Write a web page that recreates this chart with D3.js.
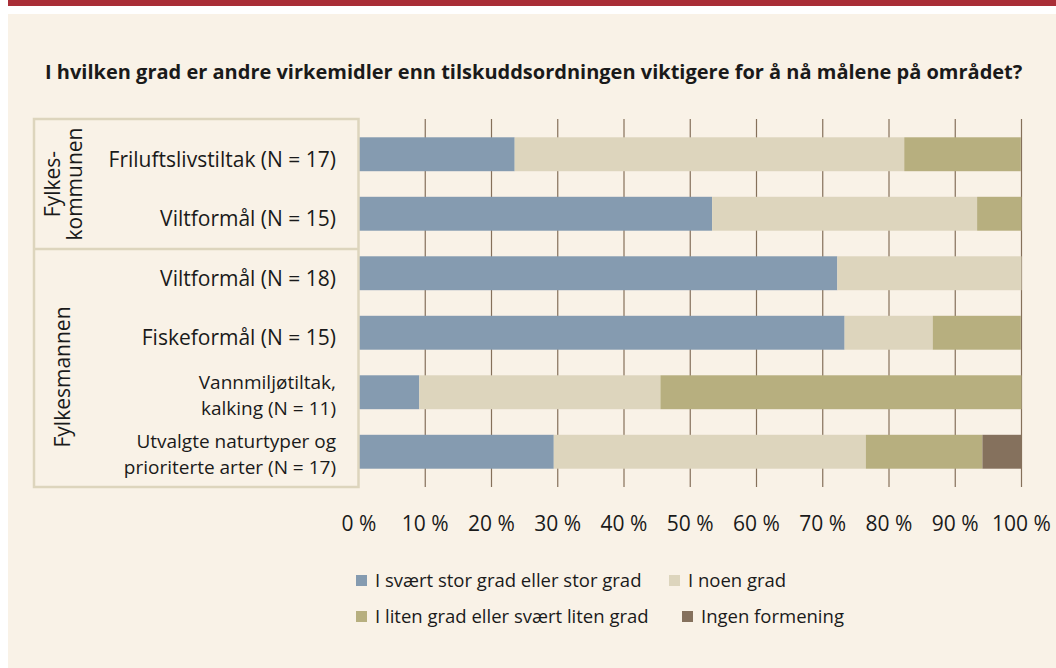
<!DOCTYPE html>
<html>
<head>
<meta charset="utf-8">
<script src="https://cdn.jsdelivr.net/npm/d3@7"></script>
<style>
  body { margin: 0; background: #ffffff; }
  svg text { font-family: "Open Sans", "Noto Sans", sans-serif; fill: #1a1a1a; }
</style>
</head>
<body>
<svg width="1056" height="668"></svg>
<script>
// chart data
var title = "I hvilken grad er andre virkemidler enn tilskuddsordningen viktigere for å nå målene på området?";
var categories = [
    "Friluftslivstiltak (N = 17)",
    "Viltformål (N = 15)",
    "Viltformål (N = 18)",
    "Fiskeformål (N = 15)",
    "Vannmiljøtiltak,|kalking (N = 11)",
    "Utvalgte naturtyper og|prioriterte arter (N = 17)"
];
var groups = [
    { name: "Fylkes-|kommunen", first: 0, last: 1 },
    { name: "Fylkesmannen", first: 2, last: 5 }
];
var seriesNames = ["I svært stor grad eller stor grad", "I noen grad", "I liten grad eller svært liten grad", "Ingen formening"];
var storGrad = [23.5, 53.3, 72.2, 73.3, 9.1, 29.4];
var noenGrad = [58.8, 40.0, 27.8, 13.3, 36.4, 47.1];
var litenGrad = [17.6, 6.7, 0, 13.3, 54.5, 17.6];
var ingenFormening = [0, 0, 0, 0, 0, 5.9];
var xTicks = [0, 10, 20, 30, 40, 50, 60, 70, 80, 90, 100];
var colors = ["#859bb0", "#ddd5bd", "#b7af7f", "#85715d"];

var svg = d3.select("svg");

// page header band + panel
svg.append("rect").attr("x", 8).attr("y", 0).attr("width", 1048).attr("height", 6).attr("fill", "#a92e37");
svg.append("rect").attr("x", 8).attr("y", 14).attr("width", 1048).attr("height", 654).attr("fill", "#f9f2e7");

svg.append("text")
    .attr("x", 45).attr("y", 79)
    .style("font-weight", "bold")
    .style("font-size", "20px")
    .text(title);

var table = categories.map(function (c, i) {
    return { cat: c, s0: storGrad[i], s1: noenGrad[i], s2: litenGrad[i], s3: ingenFormening[i] };
});
var stacked = d3.stack().keys(["s0", "s1", "s2", "s3"])(table);

var x = d3.scaleLinear().domain([0, 100]).range([359, 1021.5]);
var y = d3.scaleBand().domain(categories).range([124.5, 481.5])
    .paddingInner(0.43).paddingOuter(0.215);

var plotTop = 119, plotBottom = 487;

// gridlines
svg.append("g")
    .selectAll("line")
    .data(xTicks.slice(1))
    .enter().append("line")
    .attr("x1", function (d) { return x(d); })
    .attr("x2", function (d) { return x(d); })
    .attr("y1", plotTop).attr("y2", plotBottom)
    .attr("stroke", "#85705a").attr("stroke-width", 1.2);

// bars
svg.append("g")
    .selectAll("g")
    .data(stacked)
    .enter().append("g")
    .attr("fill", function (d, i) { return colors[i]; })
    .selectAll("rect")
    .data(function (d) { return d; })
    .enter().append("rect")
    .filter(function (d) { return d[1] > d[0]; })
    .attr("x", function (d) { return x(d[0]); })
    .attr("width", function (d) { return x(d[1]) - x(d[0]); })
    .attr("y", function (d) { return y(d.data.cat); })
    .attr("height", y.bandwidth());

// label frame
var frame = svg.append("g").attr("fill", "none").attr("stroke", "#ddd5bd").attr("stroke-width", 2.5);
frame.append("rect").attr("x", 34).attr("y", plotTop).attr("width", 324.5).attr("height", plotBottom - plotTop);
frame.append("line").attr("x1", 34).attr("x2", 358.5).attr("y1", 249).attr("y2", 249);

// category labels
categories.forEach(function (c, i) {
    var lines = c.split("|");
    var cy = y(c) + y.bandwidth() / 2;
    var t = svg.append("text")
        .attr("text-anchor", "end");
    if (lines.length == 1) {
        t.style("font-size", "21px");
        t.append("tspan").attr("x", 336).attr("y", cy + 12.5).text(lines[0]);
    } else {
        t.style("font-size", "19px");
        t.append("tspan").attr("x", 336).attr("y", cy - 3.5).text(lines[0]);
        t.append("tspan").attr("x", 336).attr("y", cy + 22.5).text(lines[1]);
    }
});

// group labels (rotated)
var groupCenter = [184, 377];
groups.forEach(function (g, i) {
    var lines = g.name.split("|");
    var t = svg.append("text")
        .attr("text-anchor", "middle")
        .attr("transform", "translate(0," + groupCenter[i] + ") rotate(-90)")
        .style("font-size", "21px");
    if (lines.length == 1) {
        t.append("tspan").attr("x", 0).attr("y", 70).text(lines[0]);
    } else {
        t.append("tspan").attr("x", 0).attr("y", 60).text(lines[0]);
        t.append("tspan").attr("x", 0).attr("y", 82).text(lines[1]);
    }
});

// x axis labels
svg.append("g")
    .selectAll("text")
    .data(xTicks)
    .enter().append("text")
    .attr("x", function (d) { return x(d); })
    .attr("y", 531)
    .attr("text-anchor", "middle")
    .style("font-size", "21px")
    .text(function (d) { return d + " %"; });

// legend
var legendPos = [
    { x: 356, y: 587 }, { x: 669, y: 587 },
    { x: 356, y: 623 }, { x: 682, y: 623 }
];
seriesNames.forEach(function (name, i) {
    var row = svg.append("g").attr("transform", "translate(" + legendPos[i].x + "," + legendPos[i].y + ")");
    row.append("rect").attr("x", 0).attr("y", -12).attr("width", 11).attr("height", 11).attr("fill", colors[i]);
    row.append("text").attr("x", 19).attr("y", 0).style("font-size", "18.5px").text(name);
});
</script>
</body>
</html>
